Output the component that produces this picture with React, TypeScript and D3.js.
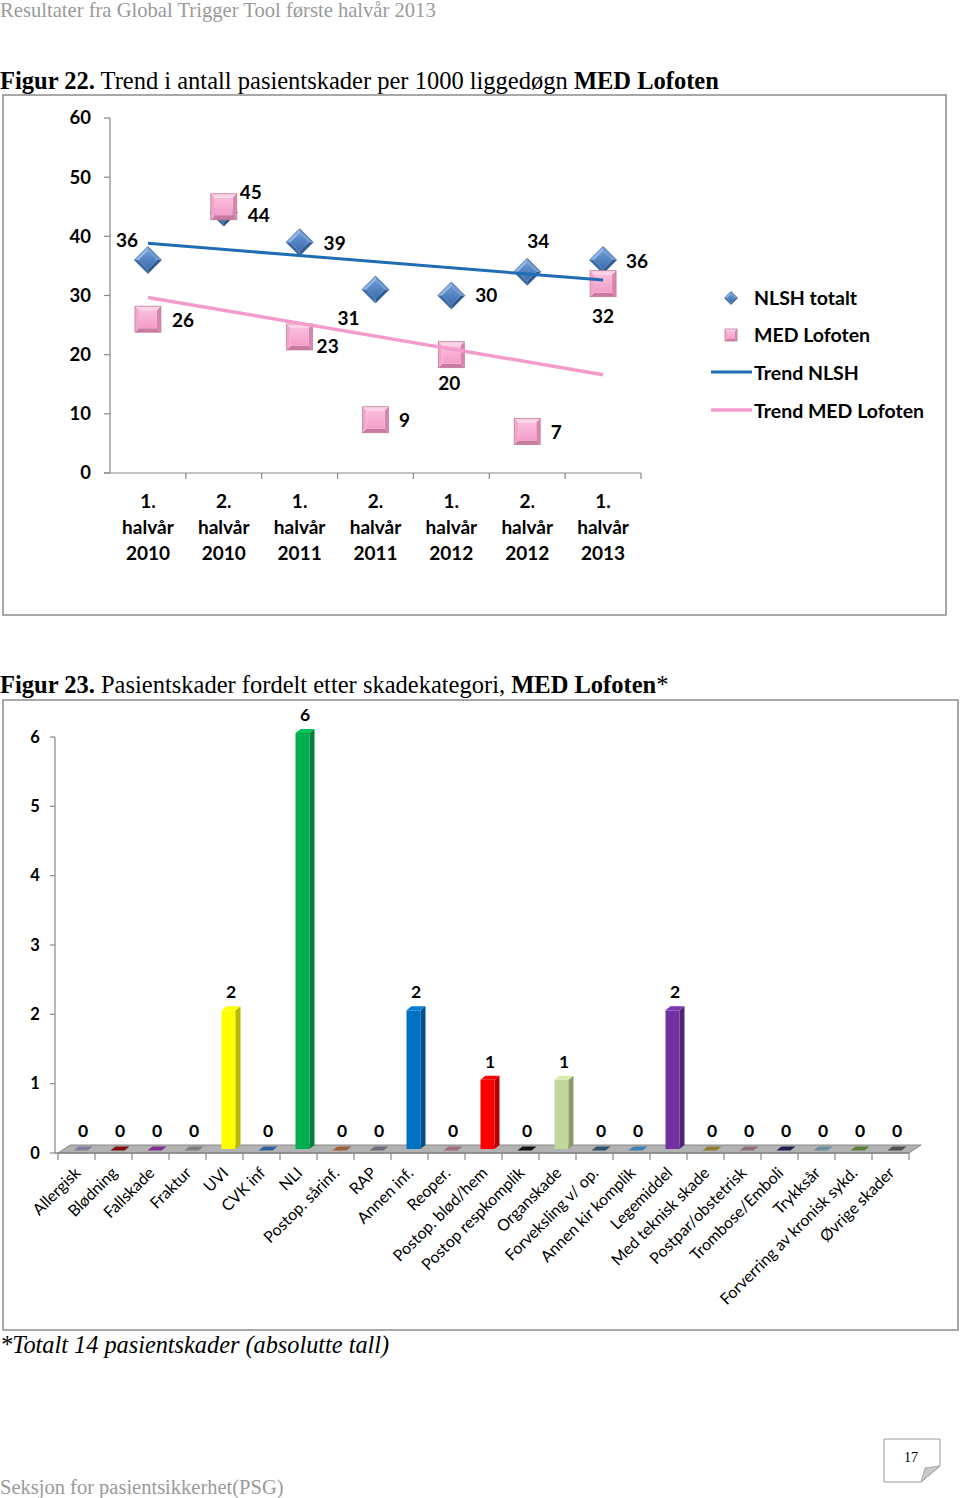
import React from "react";
import * as d3 from "d3";

// ---------- Figure 22 data ----------
const periods = ["1. halvår 2010", "2. halvår 2010", "1. halvår 2011", "2. halvår 2011", "1. halvår 2012", "2. halvår 2012", "1. halvår 2013"];
const nlshTotalt = [36, 44, 39, 31, 30, 34, 36];
const medLofoten = [26, 45, 23, 9, 20, 7, 32];
const yTicks1 = [0, 10, 20, 30, 40, 50, 60];

// ---------- Figure 23 data ----------
const categories = [
  "Allergisk", "Blødning", "Fallskade", "Fraktur", "UVI", "CVK inf", "NLI", "Postop. sårinf.", "RAP",
  "Annen inf.", "Reoper.", "Postop. blød/hem", "Postop respkomplik", "Organskade", "Forveksling v/ op.",
  "Annen kir komplik", "Legemiddel", "Med teknisk skade", "Postpar/obstetrisk", "Trombose/Emboli",
  "Trykksår", "Forverring av kronisk sykd.", "Øvrige skader",
];
const counts = [0, 0, 0, 0, 2, 0, 6, 0, 0, 2, 0, 1, 0, 1, 0, 0, 2, 0, 0, 0, 0, 0, 0];
const yTicks2 = [0, 1, 2, 3, 4, 5, 6];

// styles (not data)
const barColors = [
  "#7f7f9f", "#7f1010", "#7f2f8f", "#7f7f7f", "#ffff00", "#2f5f9f", "#00b050", "#a0603a", "#6f6f7f",
  "#0070c0", "#9f6f7f", "#ff0000", "#111111", "#c3d69b", "#2f4f6f", "#3f7faf", "#7030a0", "#8f7f2f",
  "#8f6f7f", "#1f1f4f", "#6f8f9f", "#5f7f3f", "#4f4f4f",
];
// label offsets for figure 22 data labels [dx, dy]
const nlshLabelOff = [[-21, -20], [35, 3], [35, 1], [-27, 29], [35, 0], [11, -30], [34, 1]];
const medLabelOff = [[35, 1], [27, -14], [28, 9], [29, 1], [-2, 29], [29, 1], [0, 33]];

const SANS = "Lato, 'Open Sans', sans-serif";
const SERIF = "'Liberation Serif', 'DejaVu Serif', serif";

type P = [number, number];
const pts = (a: P[]) => a.map((p) => p.join(",")).join(" ");

function Square({ cx, cy, s, b }: { cx: number; cy: number; s: number; b: number }) {
  const h = s / 2, i = h - b;
  return (
    <g>
      <polygon points={pts([[cx - h, cy - h], [cx + h, cy - h], [cx + i, cy - i], [cx - i, cy - i]])} fill="#fbd3e6" />
      <polygon points={pts([[cx + h, cy - h], [cx + h, cy + h], [cx + i, cy + i], [cx + i, cy - i]])} fill="#d886b0" />
      <polygon points={pts([[cx + h, cy + h], [cx - h, cy + h], [cx - i, cy + i], [cx + i, cy + i]])} fill="#c97a9f" />
      <polygon points={pts([[cx - h, cy + h], [cx - h, cy - h], [cx - i, cy - i], [cx - i, cy + i]])} fill="#f0a7ca" />
      <rect x={cx - i} y={cy - i} width={2 * i} height={2 * i} fill="url(#pinkG)" />
      <rect x={cx - h} y={cy - h} width={s} height={s} fill="none" stroke="#c57a9c" strokeWidth={0.8} />
    </g>
  );
}

function Diamond({ cx, cy, s, b }: { cx: number; cy: number; s: number; b: number }) {
  const h = s / 2, i = h - b;
  const T: P = [cx, cy - h], R: P = [cx + h, cy], B: P = [cx, cy + h], L: P = [cx - h, cy];
  const Ti: P = [cx, cy - i], Ri: P = [cx + i, cy], Bi: P = [cx, cy + i], Li: P = [cx - i, cy];
  return (
    <g>
      <polygon points={pts([L, T, Ti, Li])} fill="#8fb5e6" />
      <polygon points={pts([T, R, Ri, Ti])} fill="#6d98d0" />
      <polygon points={pts([R, B, Bi, Ri])} fill="#2c5690" />
      <polygon points={pts([B, L, Li, Bi])} fill="#3b6aa8" />
      <polygon points={pts([Ti, Ri, Bi, Li])} fill="url(#blueG)" />
      <polygon points={pts([T, R, B, L])} fill="none" stroke="#345f98" strokeWidth={0.8} />
    </g>
  );
}

function regression(vals: number[]) {
  const xs = vals.map((_, i) => i + 1);
  const mx = d3.mean(xs)!, my = d3.mean(vals)!;
  const sxy = d3.sum(xs.map((x, i) => (x - mx) * (vals[i] - my)));
  const sxx = d3.sum(xs.map((x) => (x - mx) ** 2));
  const slope = sxy / sxx;
  return (x: number) => my + slope * (x - mx);
}

function Figure22() {
  const x = d3.scaleBand<string>().domain(periods).range([110, 641]);
  const y = d3.scaleLinear().domain([0, 60]).range([473, 118]);
  const cx = (i: number) => x(periods[i])! + x.bandwidth() / 2;
  const rN = regression(nlshTotalt);
  const rM = regression(medLofoten);
  const n = periods.length;
  const line = d3.line<[number, number]>().x((d) => d[0]).y((d) => d[1]);
  const trendN = line([[cx(0), y(rN(1))], [cx(n - 1), y(rN(n))]])!;
  const trendM = line([[cx(0), y(rM(1))], [cx(n - 1), y(rM(n))]])!;
  const axisC = "#868686";
  return (
    <g>
      <rect x={3} y={95} width={943} height={520} fill="#fff" stroke="#8c8c8c" strokeWidth={1.5} />
      {/* y axis */}
      <line x1={110} x2={110} y1={y(60)} y2={y(0)} stroke={axisC} strokeWidth={1.2} />
      {yTicks1.map((t) => (
        <g key={t}>
          <line x1={104} x2={110} y1={y(t)} y2={y(t)} stroke={axisC} strokeWidth={1.2} />
          <text x={91} y={y(t)} dy="0.35em" textAnchor="end" fontFamily={SANS} fontWeight="bold" fontSize={18.5}>{t}</text>
        </g>
      ))}
      {/* x axis */}
      <line x1={104} x2={641} y1={y(0)} y2={y(0)} stroke={axisC} strokeWidth={1.2} />
      {periods.map((p, i) => (
        <line key={"t" + i} x1={x(p)! + x.bandwidth()} x2={x(p)! + x.bandwidth()} y1={y(0)} y2={y(0) + 6} stroke={axisC} strokeWidth={1.2} />
      ))}
      {periods.map((p, i) => {
        const parts = p.split(" ");
        return (
          <text key={"l" + i} x={cx(i)} y={508} textAnchor="middle" fontFamily={SANS} fontWeight="bold" fontSize={19}>
            {parts.map((s, j) => (
              <tspan key={j} x={cx(i)} dy={j === 0 ? 0 : 26}>{s}</tspan>
            ))}
          </text>
        );
      })}
      {/* markers */}
      {nlshTotalt.map((v, i) => <Diamond key={"d" + i} cx={cx(i)} cy={y(v)} s={27} b={4} />)}
      {medLofoten.map((v, i) => <Square key={"s" + i} cx={cx(i)} cy={y(v)} s={26} b={4} />)}
      {/* trend lines */}
      <path d={trendN} stroke="#1f6db5" strokeWidth={3} fill="none" />
      <path d={trendM} stroke="#f39ccb" strokeWidth={3.5} fill="none" />
      {/* data labels */}
      {nlshTotalt.map((v, i) => (
        <text key={"nl" + i} x={cx(i) + nlshLabelOff[i][0]} y={y(v) + nlshLabelOff[i][1]} dy="0.35em" textAnchor="middle" fontFamily={SANS} fontWeight="bold" fontSize={19}>{v}</text>
      ))}
      {medLofoten.map((v, i) => (
        <text key={"ml" + i} x={cx(i) + medLabelOff[i][0]} y={y(v) + medLabelOff[i][1]} dy="0.35em" textAnchor="middle" fontFamily={SANS} fontWeight="bold" fontSize={19}>{v}</text>
      ))}
      {/* legend */}
      <Diamond cx={731} cy={298} s={13} b={2} />
      <text x={754} y={298} dy="0.35em" fontFamily={SANS} fontWeight="bold" fontSize={19.5}>NLSH totalt</text>
      <Square cx={731} cy={335} s={12} b={2} />
      <text x={754} y={335} dy="0.35em" fontFamily={SANS} fontWeight="bold" fontSize={19.5}>MED Lofoten</text>
      <line x1={711} x2={752} y1={372} y2={372} stroke="#1f6db5" strokeWidth={3} />
      <text x={754} y={373} dy="0.35em" fontFamily={SANS} fontWeight="bold" fontSize={19.5}>Trend NLSH</text>
      <line x1={711} x2={752} y1={410} y2={410} stroke="#f39ccb" strokeWidth={3.5} />
      <text x={754} y={411} dy="0.35em" fontFamily={SANS} fontWeight="bold" fontSize={19.5}>Trend MED Lofoten</text>
    </g>
  );
}

function Figure23() {
  const x = d3.scaleBand<string>().domain(categories).range([58, 909]);
  const y = d3.scaleLinear().domain([0, 6]).range([1153, 737]);
  const bw = x.bandwidth();
  const fw = 14; // front face width
  const dx = 5, dy = -4; // depth
  const ox = 4, oy = -4; // offset of bars into floor
  const floorD: [number, number] = [12, -8];
  const axisC = "#868686";
  return (
    <g>
      <rect x={3} y={700} width={955} height={630} fill="#fff" stroke="#8c8c8c" strokeWidth={1.5} />
      {/* y axis */}
      <line x1={55} x2={55} y1={y(6)} y2={y(0)} stroke={axisC} strokeWidth={1.2} />
      {yTicks2.map((t) => (
        <g key={t}>
          <line x1={50} x2={55} y1={y(t)} y2={y(t)} stroke={axisC} strokeWidth={1.2} />
          <text x={35} y={y(t)} dy="0.35em" textAnchor="middle" fontFamily={SANS} fontWeight="bold" fontSize={16.5}>{t}</text>
        </g>
      ))}
      {/* floor */}
      <polygon
        points={pts([[58, y(0)], [909, y(0)], [909 + floorD[0], y(0) + floorD[1]], [58 + floorD[0], y(0) + floorD[1]]])}
        fill="#b2b2b2" stroke="#8a8a8a" strokeWidth={1}
      />
      <line x1={55} x2={909} y1={y(0)} y2={y(0)} stroke={axisC} strokeWidth={1.5} />
      {categories.map((c, i) => (
        <line key={"tk" + i} x1={x(c)!} x2={x(c)!} y1={y(0)} y2={y(0) + 7} stroke={axisC} strokeWidth={1.2} />
      ))}
      <line x1={909} x2={909} y1={y(0)} y2={y(0) + 7} stroke={axisC} strokeWidth={1.2} />
      {/* bars */}
      {counts.map((v, i) => {
        const c = categories[i];
        const x0 = x(c)! + bw / 2 - fw / 2 + ox;
        const yb = y(0) + oy;
        const yt = y(v) + oy;
        const col = barColors[i];
        const side = d3.color(col)!.darker(0.9).formatHex();
        const top = d3.color(col)!.brighter(0.3).formatHex();
        if (v === 0) {
          return (
            <g key={"b" + i}>
              <polygon points={pts([[x0, yb + 1.5], [x0 + fw, yb + 1.5], [x0 + fw + dx, yb + 1.5 + dy], [x0 + dx, yb + 1.5 + dy]])} fill={col} />
            </g>
          );
        }
        return (
          <g key={"b" + i}>
            <rect x={x0} y={yt} width={fw} height={yb - yt} fill={col} />
            <polygon points={pts([[x0 + fw, yt], [x0 + fw + dx, yt + dy], [x0 + fw + dx, yb + dy], [x0 + fw, yb]])} fill={side} />
            <polygon points={pts([[x0, yt], [x0 + fw, yt], [x0 + fw + dx, yt + dy], [x0 + dx, yt + dy]])} fill={top} />
          </g>
        );
      })}
      {/* value labels */}
      {counts.map((v, i) => {
        const c = categories[i];
        const xc = x(c)! + bw / 2 + ox + dx / 2;
        return (
          <text key={"v" + i} x={xc} y={y(v) + oy - 12} textAnchor="middle" fontFamily={SANS} fontWeight="bold" fontSize={17.5}>{v}</text>
        );
      })}
      {/* category labels */}
      {categories.map((c, i) => {
        const ax = x(c)! + bw / 2 + 1;
        const ay = 1170;
        return (
          <text key={"c" + i} transform={`translate(${ax},${ay}) rotate(-45)`} textAnchor="end" dy="0.35em" fontFamily={SANS} fontSize={16}>{c}</text>
        );
      })}
    </g>
  );
}

export default function App() {
  return (
    <svg width={960} height={1498} style={{ position: "absolute", left: 0, top: 0, display: "block", background: "#fff" }}>
      <defs>
        <linearGradient id="blueG" x1="0" y1="0" x2="0" y2="1">
          <stop offset="0" stopColor="#6b9ad6" />
          <stop offset="1" stopColor="#3c6bab" />
        </linearGradient>
        <linearGradient id="pinkG" x1="0" y1="0" x2="0" y2="1">
          <stop offset="0" stopColor="#fbbedc" />
          <stop offset="1" stopColor="#f39cc8" />
        </linearGradient>
      </defs>
      <rect width={960} height={1498} fill="#fff" />
      <text x={0} y={17} fontFamily={SERIF} fontSize={20.6} fill="#9a9a9a">Resultater fra Global Trigger Tool første halvår 2013</text>
      <text x={0} y={89} fontFamily={SERIF} fontSize={24.5}>
        <tspan fontWeight="bold">Figur 22.</tspan>
        <tspan> Trend i antall pasientskader per 1000 liggedøgn </tspan>
        <tspan fontWeight="bold">MED Lofoten</tspan>
      </text>
      <Figure22 />
      <text x={0} y={693} fontFamily={SERIF} fontSize={24.5}>
        <tspan fontWeight="bold">Figur 23.</tspan>
        <tspan> Pasientskader fordelt etter skadekategori, </tspan>
        <tspan fontWeight="bold">MED Lofoten</tspan>
        <tspan>*</tspan>
      </text>
      <Figure23 />
      <text x={0} y={1353} fontFamily={SERIF} fontStyle="italic" fontSize={24.3}>*Totalt 14 pasientskader (absolutte tall)</text>
      <text x={0} y={1494} fontFamily={SERIF} fontSize={20.5} fill="#9a9a9a">Seksjon for pasientsikkerhet(PSG)</text>
      {/* page number */}
      <path d="M884,1439 H940 V1466 L921,1482 H884 Z" fill="#fff" stroke="#9a9a9a" strokeWidth={1} />
      <path d="M921,1482 L925,1468 L940,1466 Z" fill="#c8c8c8" stroke="#9a9a9a" strokeWidth={0.8} />
      <text x={911} y={1462} textAnchor="middle" fontFamily={SERIF} fontSize={14}>17</text>
    </svg>
  );
}
